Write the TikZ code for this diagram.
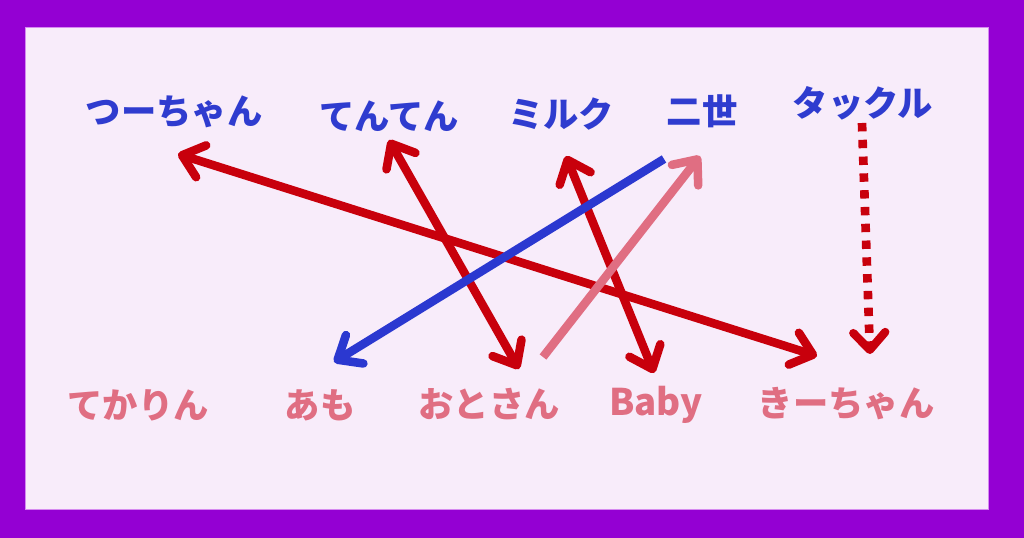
\documentclass[tikz,border=0pt]{standalone}
\usepackage{fontspec}
\newfontfamily\jp{Noto Sans CJK JP}
\usetikzlibrary{arrows.meta}
\definecolor{frame}{RGB}{148,0,211}
\definecolor{paper}{RGB}{248,236,250}
\definecolor{edge}{RGB}{214,138,240}
\definecolor{tblue}{RGB}{47,60,207}
\definecolor{tpink}{RGB}{224,110,130}
\definecolor{ared}{RGB}{200,0,12}
\definecolor{ablue}{RGB}{43,56,208}
\tikzset{
  lbl/.style={inner sep=0pt, font=\jp\bfseries\fontsize{26.5pt}{30pt}\selectfont},
  toplbl/.style={lbl, text=tblue},
  botlbl/.style={lbl, text=tpink},
  barb/.tip={Straight Barb[round, length=15pt, width=25pt]},
  arr/.style={line width=6.4pt},
}
\begin{document}
\begin{tikzpicture}[x=0.75pt, y=-0.75pt]
\useasboundingbox (0,0) rectangle (1024,538);
\fill[frame] (0,0) rectangle (1024,538);
\filldraw[fill=paper, draw=edge, line width=0.75pt] (25,28) rectangle (988,509);

% top labels
\node[toplbl] (tsu) at (174,112) {つーちゃん};
\node[toplbl] (ten) at (389,116) {てんてん};
\node[toplbl] (mil) at (561,114) {ミルク};
\node[toplbl] (nis) at (702,111) {二世};
\node[toplbl] (tak) at (863,103) {タックル};
% bottom labels
\node[botlbl] (tek) at (138,405) {てかりん};
\node[botlbl] (amo) at (320,405) {あも};
\node[botlbl] (oto) at (489,404) {おとさん};
\node[botlbl, font=\jp\bfseries\fontsize{27.5pt}{30pt}\selectfont] (bab) at (656,405) {Baby};
\node[botlbl] (kii) at (846,404) {きーちゃん};

% connector ends
\coordinate (tsuE) at (178,154);
\coordinate (kiiE) at (817,356);
\coordinate (tenE) at (389,140);
\coordinate (otoE) at (519,369);
\coordinate (milE) at (566,156);
\coordinate (babE) at (654,373);
\coordinate (nisB) at (664,159);
\coordinate (amoE) at (334,362);
\coordinate (otoP) at (543,357);
\coordinate (nisE) at (700,156);
\coordinate (takS) at (862,123);
\coordinate (takE) at (870,354);

\draw[arr, ared, {barb}-{barb}] (tsuE) -- (kiiE);
\draw[arr, ared, {barb}-{barb}] (tenE) -- (otoE);
\draw[arr, ared, {barb}-{barb}] (milE) -- (babE);
\draw[arr, ablue, -{barb}] (nisB) -- (amoE);
\draw[arr, tpink, -{barb}] (otoP) -- (nisE);
\draw[line width=6.5pt, ared, dash pattern=on 6.3pt off 6.3pt, -{Straight Barb[round, length=13pt, width=24pt, line width=6.2pt, sep=0pt]}] (takS) -- (takE);
\end{tikzpicture}
\end{document}
